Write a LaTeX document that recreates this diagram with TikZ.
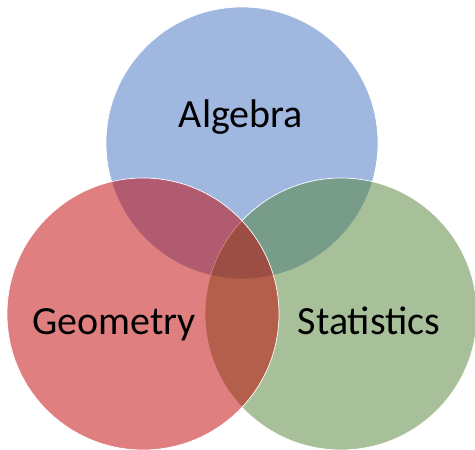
\documentclass[tikz,border=0pt]{standalone}
\usepackage{fontspec}
\setmainfont{Carlito}
\definecolor{algblue}{RGB}{65,113,193}
\definecolor{geored}{RGB}{193,0,0}
\definecolor{statgreen}{RGB}{81,129,53}
\tikzset{
  vennset/.style={circle, minimum size=272pt, inner sep=0pt, fill opacity=0.5, draw=white, draw opacity=1, line width=0.7pt},
  vennlabel/.style={anchor=base, font=\fontsize{40}{40}\selectfont, text=black, inner sep=0pt}
}
\begin{document}
\begin{tikzpicture}[x=1pt,y=1pt]
\useasboundingbox (0,0) rectangle (475,450);
\node[vennset, fill=algblue] (alg) at (242,307) {};
\node[vennset, fill=statgreen] (stat) at (341,136) {};
\node[vennset, fill=geored] (geo) at (143,136) {};
\node[vennlabel] (algt) at (241,322) {Algebra};
\node[vennlabel] (geot) at (114,115) {Geometry};
\node[vennlabel] (statt) at (369,115) {Statistics};
\end{tikzpicture}
\end{document}
